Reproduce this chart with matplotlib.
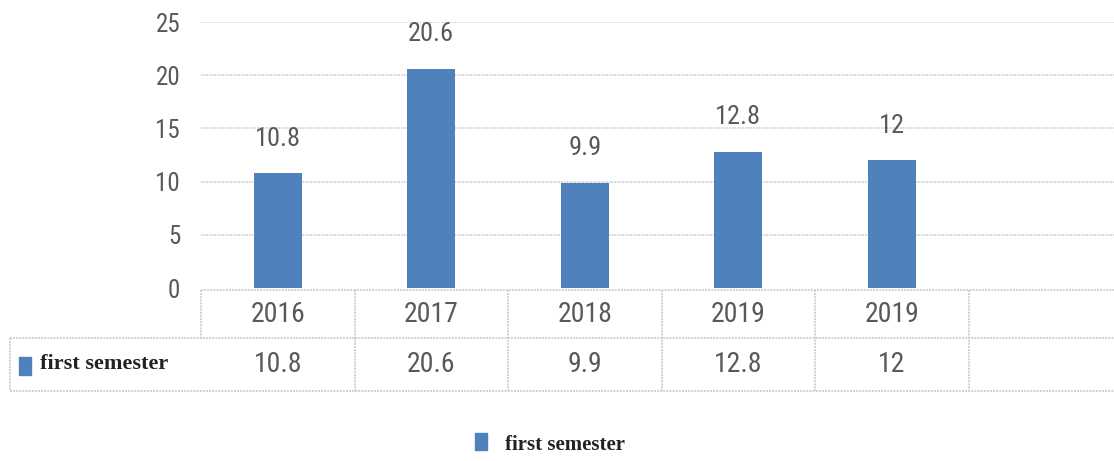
import matplotlib
matplotlib.use('Agg')
from matplotlib import pyplot as plt
from matplotlib.patches import Rectangle
import matplotlib.transforms as mtransforms

# data
years = ['2016', '2017', '2018', '2019', '2019', '']
values = [10.8, 20.6, 9.9, 12.8, 12, None]
value_labels = ['10.8', '20.6', '9.9', '12.8', '12', '']
series_name = 'first semester'
yticks = [0, 5, 10, 15, 20, 25]

bar_color = '#4f81bd'
text_gray = '#595959'
line_gray = '#d0d0d0'
num_font = ['Roboto Condensed', 'DejaVu Sans']
key_font = ['Liberation Serif', 'DejaVu Serif']

W, H = 1114, 461
fig = plt.figure(figsize=(W / 100, H / 100), dpi=100)
# axes in pixel terms: left 201, right 1122, bottom 288, top 22
ax = fig.add_axes([201 / W, 1 - 288 / H, (1122 - 201) / W, (288 - 22) / H])
ax.set_xlim(-0.5, len(years) - 0.5)
ax.set_ylim(0, 25)

xs = list(range(len(years)))
for x, v, lab in zip(xs, values, value_labels):
    if v is None:
        continue
    ax.bar(x, v, width=0.31, color=bar_color, zorder=3)
    ax.text(x, v + 2.1, lab, ha='center', va='bottom', fontsize=19,
            family=num_font, color=text_gray)

for t in yticks[1:]:
    ax.axhline(t, color=line_gray, lw=1.2, ls=(0, (1, 0.6)), zorder=1)

ax.set_yticks(yticks)
ax.set_yticklabels([str(t) for t in yticks], fontsize=18, family=num_font,
                   color=text_gray)
ax.tick_params(axis='y', length=0, pad=15)
ax.set_xticks([])
for s in ax.spines.values():
    s.set_visible(False)

# data table below the plot
ph = 288 - 22  # axes height in px
tr = mtransforms.blended_transform_factory(ax.transData, ax.transAxes)
y_top = -2 / ph
y_mid = -50 / ph
y_bot = -103 / ph
x_left_tab = -0.5 - (201 - 10) / ((1122 - 201) / len(years))
kw = dict(color=line_gray, lw=1.4, ls=(0, (1, 0.6)), transform=tr,
          clip_on=False)
ax.plot([-0.5, len(years) - 0.5], [y_top, y_top], **kw)
ax.plot([x_left_tab, len(years) - 0.5], [y_mid, y_mid], **kw)
ax.plot([x_left_tab, len(years) - 0.5], [y_bot, y_bot], **kw)
ax.plot([-0.5, -0.5], [y_top, y_mid], **kw)
ax.plot([x_left_tab, x_left_tab], [y_mid, y_bot], **kw)
for i in range(1, len(years)):
    ax.plot([i - 0.5, i - 0.5], [y_top, y_bot], **kw)

for x, yr, lab in zip(xs, years, value_labels):
    ax.text(x, (y_top + y_mid) / 2, yr, ha='center', va='center', fontsize=20,
            family=num_font, color=text_gray, transform=tr)
    ax.text(x, (y_mid + y_bot) / 2, lab, ha='center', va='center', fontsize=20,
            family=num_font, color=text_gray, transform=tr)

# series key inside table
fig.patches.append(Rectangle((19 / W, 1 - 375 / H), 12 / W, 18 / H,
                             transform=fig.transFigure, color=bar_color))
fig.text(40 / W, 1 - 364 / H, series_name, fontsize=16, family=key_font,
         weight='bold', color='#222222', va='center', ha='left')

# legend at bottom
fig.patches.append(Rectangle((475 / W, 1 - 450 / H), 12 / W, 17 / H,
                             transform=fig.transFigure, color=bar_color))
fig.text(505 / W, 1 - 445 / H, series_name, fontsize=15, family=key_font,
         weight='bold', color='#222222', va='center', ha='left')

fig.savefig('out.png', dpi=100)
